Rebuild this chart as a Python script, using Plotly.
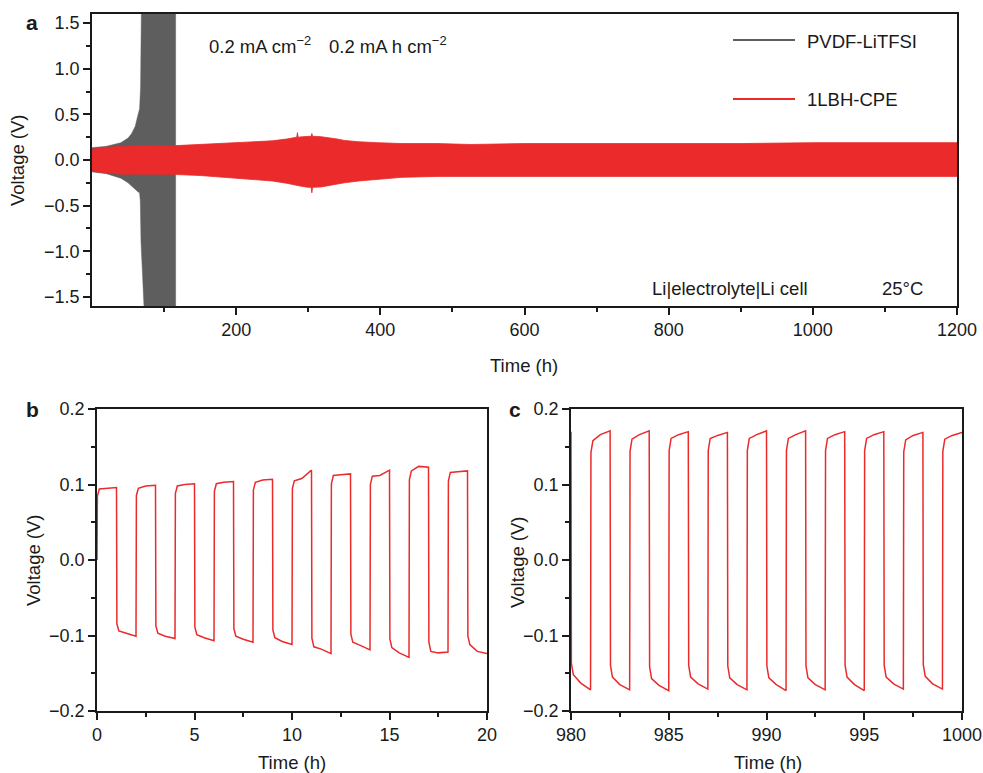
import plotly.graph_objects as go

W, H = 983, 773
FONT = "Arial, Liberation Sans, sans-serif"
INK = "#1a1a1a"
RED = "#ea2a2b"
GREY = "#5e5e5e"

# ---- panel a: long-term cycling, envelope of the voltage swing ----
red_t = [0, 5, 20, 40, 70, 110, 150, 180, 220, 250, 270, 280, 284, 285, 286,
         292, 300, 304, 305, 306, 318, 330, 340, 350, 370, 396, 430, 480, 525,
         600, 700, 800, 900, 1000, 1100, 1200]
red_upper = [0.11, 0.13, 0.14, 0.15, 0.16, 0.155, 0.17, 0.18, 0.2, 0.21, 0.23,
             0.24, 0.25, 0.3, 0.25, 0.255, 0.26, 0.26, 0.29, 0.26, 0.255, 0.245,
             0.23, 0.215, 0.2, 0.19, 0.18, 0.18, 0.17, 0.18, 0.18, 0.18, 0.18,
             0.19, 0.19, 0.19]
red_lower = [-0.11, -0.13, -0.14, -0.155, -0.16, -0.157, -0.17, -0.19, -0.21,
             -0.23, -0.255, -0.27, -0.28, -0.28, -0.28, -0.29, -0.3, -0.3,
             -0.36, -0.3, -0.295, -0.28, -0.265, -0.25, -0.23, -0.21, -0.19,
             -0.18, -0.175, -0.18, -0.18, -0.18, -0.18, -0.18, -0.18, -0.18]

grey_t_up = [0, 20, 40, 50, 55, 60, 64, 66, 67.4, 68.7, 116]
grey_upper = [0.135, 0.15, 0.19, 0.24, 0.29, 0.37, 0.5, 0.56, 0.8, 1.8, 1.8]
grey_t_lo = [0, 20, 40, 50, 60, 64, 66, 67, 68, 69.5, 71, 73.3, 116]
grey_lower = [-0.13, -0.15, -0.2, -0.25, -0.32, -0.35, -0.36, -0.45, -0.9,
              -1.3, -1.42, -1.8, -1.8]

# ---- panel b: first 20 h, one entry per 1 h half-cycle ----
b_edges = list(range(0, 20))
b_start = [0.094, -0.094, 0.095, -0.097, 0.098, -0.099, 0.101, -0.101, 0.103,
           -0.103, 0.105, -0.115, 0.112, -0.109, 0.111, -0.116, 0.118, -0.121,
           0.116, -0.112]
b_mid = [0.095, -0.097, 0.098, -0.101, 0.100, -0.103, 0.103, -0.105, 0.106,
         -0.108, 0.108, -0.118, 0.113, -0.113, 0.112, -0.123, 0.124, -0.123,
         0.117, -0.121]
b_end = [0.096, -0.101, 0.099, -0.104, 0.101, -0.107, 0.104, -0.109, 0.107,
         -0.112, 0.119, -0.124, 0.114, -0.119, 0.119, -0.129, 0.123, -0.122,
         0.118, -0.124]
b_initial = 0.0

# ---- panel c: 980-1000 h ----
c_edges = list(range(980, 1000))
c_start = [-0.152, 0.158, -0.155, 0.160, -0.157, 0.161, -0.155, 0.161, -0.156,
           0.161, -0.156, 0.161, -0.156, 0.161, -0.155, 0.161, -0.155, 0.159,
           -0.154, 0.160]
c_mid = [-0.163, 0.166, -0.165, 0.166, -0.166, 0.166, -0.164, 0.165, -0.165,
         0.166, -0.165, 0.166, -0.165, 0.166, -0.165, 0.166, -0.164, 0.165,
         -0.164, 0.165]
c_end = [-0.172, 0.171, -0.172, 0.171, -0.173, 0.170, -0.171, 0.169, -0.172,
         0.171, -0.173, 0.171, -0.172, 0.170, -0.173, 0.170, -0.171, 0.169,
         -0.171, 0.169]
c_initial = 0.170


def square_wave(edges, start, mid, end, initial):
    """Polyline through each half-cycle: edge, settled start, mid and end values."""
    xs, ys = [edges[0]], [initial]
    for t0, s, m, e in zip(edges, start, mid, end):
        xs += [t0 + 0.02, t0 + 0.12, t0 + 0.5, t0 + 1.0]
        ys += [0.9 * s, s, m, e]
    return xs, ys


def band(t_up, up, t_lo, lo):
    return list(t_up) + list(t_lo)[::-1], list(up) + list(lo)[::-1]


def px(x):
    return x / W


def py(y):
    return 1 - y / H


fig = go.Figure()

gx, gy = band(grey_t_up, grey_upper, grey_t_lo, grey_lower)
fig.add_trace(go.Scatter(x=gx, y=gy, fill="toself", fillcolor=GREY,
                         line=dict(color=GREY, width=0.5), mode="lines",
                         name="PVDF-LiTFSI", xaxis="x", yaxis="y",
                         hoverinfo="skip"))
rx, ry = band(red_t, red_upper, red_t, red_lower)
fig.add_trace(go.Scatter(x=rx, y=ry, fill="toself", fillcolor=RED,
                         line=dict(color=RED, width=0.8), mode="lines",
                         name="1LBH-CPE", xaxis="x", yaxis="y",
                         hoverinfo="skip"))

bx, by = square_wave(b_edges, b_start, b_mid, b_end, b_initial)
fig.add_trace(go.Scatter(x=bx, y=by, mode="lines",
                         line=dict(color=RED, width=1.5),
                         xaxis="x2", yaxis="y2", name="1LBH-CPE 0-20 h"))
cx, cy = square_wave(c_edges, c_start, c_mid, c_end, c_initial)
fig.add_trace(go.Scatter(x=cx, y=cy, mode="lines",
                         line=dict(color=RED, width=1.5),
                         xaxis="x3", yaxis="y3", name="1LBH-CPE 980-1000 h"))

axis_common = dict(showline=True, linecolor=INK, linewidth=1.5, mirror=True,
                   ticks="outside", ticklen=7, tickwidth=1.5, tickcolor=INK,
                   showgrid=False, zeroline=False, automargin=False,
                   tickfont=dict(family=FONT, size=18, color=INK))


def minor(**kw):
    return dict(ticks="outside", ticklen=4, tickwidth=1.5, tickcolor=INK,
                showgrid=False, **kw)


fig.update_layout(
    width=W, height=H,
    margin=dict(l=0, r=0, t=0, b=0, pad=0, autoexpand=False),
    paper_bgcolor="white", plot_bgcolor="white", showlegend=False,
    font=dict(family=FONT, color=INK, size=18),
    xaxis=dict(domain=[px(92), px(957)], range=[0, 1200], anchor="y",
               tickmode="array", tickvals=[200, 400, 600, 800, 1000, 1200],
               minor=minor(tickmode="array",
                           tickvals=[100, 300, 500, 700, 900, 1100]),
               **axis_common),
    yaxis=dict(domain=[py(306), py(14)], range=[-1.6, 1.6], anchor="x",
               dtick=0.5, tick0=0, tickformat=".1f",
               minor=minor(dtick=0.25, tick0=0), **axis_common),
    xaxis2=dict(domain=[px(97), px(487)], range=[0, 20], anchor="y2",
                dtick=5, tick0=0, minor=minor(dtick=2.5, tick0=0),
                **axis_common),
    yaxis2=dict(domain=[py(711), py(409)], range=[-0.2, 0.2], anchor="x2",
                dtick=0.1, tick0=0, tickformat=".1f",
                minor=minor(dtick=0.05, tick0=0), **axis_common),
    xaxis3=dict(domain=[px(571), px(962)], range=[980, 1000], anchor="y3",
                dtick=5, tick0=980, minor=minor(dtick=2.5, tick0=980),
                **axis_common),
    yaxis3=dict(domain=[py(711), py(409)], range=[-0.2, 0.2], anchor="x3",
                dtick=0.1, tick0=0, tickformat=".1f",
                minor=minor(dtick=0.05, tick0=0), **axis_common),
)


def label(text, x, y, size=18.5, xanchor="center", angle=0, bold=False):
    fig.add_annotation(text=f"<b>{text}</b>" if bold else text,
                       x=px(x), y=py(y), xref="paper", yref="paper",
                       xanchor=xanchor, yanchor="middle", textangle=angle,
                       showarrow=False,
                       font=dict(family=FONT, size=size, color=INK))


# axis titles
label("Time (h)", 524, 365)
label("Voltage (V)", 17, 160, angle=-90)
label("Time (h)", 292, 762)
label("Voltage (V)", 33, 560, angle=-90)
label("Time (h)", 768, 762)
label("Voltage (V)", 517, 562, angle=-90)

# panel letters
label("a", 32, 23, size=21, bold=True)
label("b", 32, 410, size=21, bold=True)
label("c", 515, 410, size=21, bold=True)

# test conditions
label("0.2 mA cm<sup>−2</sup>", 207, 45, xanchor="left")
label("0.2 mA h cm<sup>−2</sup>", 327, 45, xanchor="left")
label("Li|electrolyte|Li cell", 650, 288, xanchor="left")
label("25°C", 880, 288, xanchor="left")

# legend
for yline, colour, name in [(40, GREY, "PVDF-LiTFSI"), (99, RED, "1LBH-CPE")]:
    fig.add_shape(type="line", xref="paper", yref="paper",
                  x0=px(733), x1=px(795), y0=py(yline), y1=py(yline),
                  line=dict(color=colour, width=2.2))
    label(name, 805, yline + 1, xanchor="left")

fig.write_html("out.html")
